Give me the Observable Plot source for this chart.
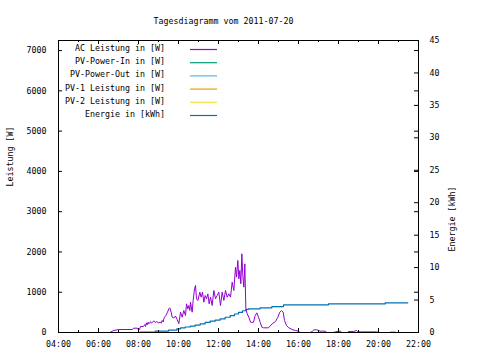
<!DOCTYPE html>
<html>
<head>
<meta charset="utf-8">
<script src="https://cdn.jsdelivr.net/npm/d3@7"></script>
<script src="https://cdn.jsdelivr.net/npm/@observablehq/plot@0.6"></script>
<style>
  html, body { margin: 0; padding: 0; background: #fff; }
</style>
</head>
<body>
<div id="chart"></div>
<script>
const titleText = "Tagesdiagramm vom 2011-07-20";
const yLabel = "Leistung [W]";
const y2Label = "Energie [kWh]";

const acTime = ["06:30","06:34","06:46","07:00","07:42","07:45","07:57","07:59","08:03","08:06","08:15","08:17","08:19","08:21","08:24","08:26","08:29","08:31","08:34","08:36","08:39","08:42","08:46","08:50","08:55","09:00","09:05","09:08","09:11","09:14","09:16","09:18","09:22","09:27","09:31","09:34","09:38","09:41","09:46","09:51","09:56","10:01","10:06","10:11","10:16","10:21","10:24","10:28","10:31","10:34","10:36","10:41","10:44","10:48","10:51","10:54","10:58","11:04","11:08","11:12","11:16","11:20","11:24","11:28","11:32","11:36","11:41","11:46","11:51","11:56","12:01","12:06","12:11","12:16","12:21","12:26","12:31","12:36","12:41","12:46","12:51","12:54","12:58","13:01","13:04","13:07","13:10","13:13","13:16","13:19","13:22","13:26","13:31","13:36","13:40","13:45","13:50","13:55","14:00","14:05","14:10","14:15","14:30","14:41","14:51","14:58","15:04","15:09","15:14","15:18","15:24","15:31","15:41","15:51","16:01","16:03","16:35","16:41","16:46","16:55","17:00","17:05","17:20","17:25","17:45","17:51","18:01","18:06","18:10","18:28","18:30","18:45","18:54","18:58","19:06","19:56","20:00","20:34","20:36","20:51","20:53"];
const acWatt = [0,0,50,74,74,107,107,74,74,150,150,174,199,149,240,190,256,215,240,270,230,256,290,250,270,240,256,230,298,260,340,380,420,505,587,612,505,380,360,410,320,220,505,380,546,422,712,587,670,546,753,505,795,1085,1167,836,795,1002,877,1002,753,918,836,960,712,877,670,1043,836,918,1002,670,1002,795,1043,877,960,877,1250,1043,1622,1374,1788,1333,1540,1209,1953,1415,1126,1705,587,463,380,256,250,256,422,488,380,256,132,116,116,215,273,380,505,546,505,298,174,116,74,50,33,0,0,25,66,66,50,33,33,0,0,17,33,33,0,0,25,25,50,17,15,15,0,0,8,8,0];

const energyTime = ["07:34","08:05","08:50","09:30","09:55","10:06","10:20","10:35","10:50","11:05","11:20","11:35","11:50","12:05","12:20","12:35","12:48","13:00","13:12","13:22","13:30","14:05","14:40","15:15","17:30","20:20","21:28"];
const energyKwh = [0,0.05,0.2,0.36,0.57,0.72,0.85,0.98,1.15,1.34,1.55,1.75,1.92,2.1,2.35,2.6,2.85,3.1,3.35,3.55,3.65,3.8,4.0,4.26,4.41,4.57,4.57];

const xMajorHours = [4,6,8,10,12,14,16,18,20,22];
const xMinorHours = [5,7,9,11,13,15,17,19,21];
const yTicksW = [0,1000,2000,3000,4000,5000,6000,7000];
const y2TicksKwh = [0,5,10,15,20,25,30,35,40,45];

const legendLabels = ["AC Leistung in [W]","PV-Power-In in [W]","PV-Power-Out in [W]","PV-1 Leistung in [W]","PV-2 Leistung in [W]","Energie in [kWh]"];
const legendColors = ["#9400d3","#009e73","#56b4e9","#e69f00","#f0e442","#0072b2"];

const Y_MAX = 7250, Y2_MAX = 45;
const toHours = s => { const [h, m] = s.split(":").map(Number); return h + m / 60; };
const fmtHour = h => String(h).padStart(2, "0") + ":00";

const ac = acTime.map((t, i) => ({h: toHours(t), w: acWatt[i]}));
const energy = energyTime.map((t, i) => ({h: toHours(t), w: energyKwh[i] * Y_MAX / Y2_MAX}));
const y2TicksW = y2TicksKwh.map(v => v * Y_MAX / Y2_MAX);

const W = 480, H = 360, mL = 58, mR = 62, mT = 40, mB = 28;
const plotH = H - mT - mB, plotW = W - mL - mR;
const FONT = "'DejaVu Sans Mono', monospace";

const chart = Plot.plot({
  width: W, height: H,
  marginLeft: mL, marginRight: mR, marginTop: mT, marginBottom: mB,
  style: {fontFamily: FONT, fontSize: "8.3px", background: "#fff", color: "#000"},
  x: {domain: [4, 22]},
  y: {domain: [0, Y_MAX]},
  marks: [
    Plot.line(energy, {x: "h", y: "w", stroke: "#0072b2", strokeWidth: 1.2, curve: "step-after"}),
    Plot.line(ac, {x: "h", y: "w", stroke: "#9400d3", strokeWidth: 1}),
    Plot.frame({stroke: "#000"}),
    // x ticks (bottom and mirrored top), inward
    Plot.tickX(xMajorHours, {x: d => d, insetTop: plotH - 4, stroke: "#000"}),
    Plot.tickX(xMinorHours, {x: d => d, insetTop: plotH - 2, stroke: "#000"}),
    Plot.tickX(xMajorHours, {x: d => d, insetBottom: plotH - 4, stroke: "#000"}),
    Plot.tickX(xMinorHours, {x: d => d, insetBottom: plotH - 2, stroke: "#000"}),
    // left y ticks, mirrored on right
    Plot.tickY(yTicksW, {y: d => d, insetRight: plotW - 4, stroke: "#000"}),
    Plot.tickY(yTicksW, {y: d => d, insetLeft: plotW - 4, stroke: "#000"}),
    // right y2 ticks
    Plot.tickY(y2TicksW, {y: d => d, insetLeft: plotW - 4, stroke: "#000"}),
    Plot.axisX(xMajorHours, {tickSize: 0, tickPadding: 9, tickFormat: fmtHour, label: null}),
    Plot.axisY(yTicksW, {anchor: "left", tickSize: 0, tickPadding: 12, tickFormat: d => String(d), label: null}),
    Plot.axisY(y2TicksW, {anchor: "right", tickSize: 0, tickPadding: 11, tickFormat: d => String(Math.round(d * Y2_MAX / Y_MAX)), label: null}),
    Plot.text([yLabel], {frameAnchor: "left", rotate: -90, dx: -48, text: d => d}),
    Plot.text([y2Label], {frameAnchor: "right", rotate: -90, dx: 34, text: d => d}),
    Plot.text([titleText], {frameAnchor: "top", dx: -15, dy: -22, text: d => d})
  ]
});

// legend inside the plot, top-left (gnuplot style)
const svg = d3.select(chart);
const lg = svg.append("g").attr("font-family", FONT).attr("font-size", "8.3px");
legendLabels.forEach((label, i) => {
  const y = 48.5 + 13.2 * i;
  lg.append("text").attr("x", 165).attr("y", y).attr("text-anchor", "end")
    .attr("dominant-baseline", "middle").attr("fill", "#000").text(label);
  lg.append("line").attr("x1", 190).attr("x2", 217).attr("y1", y + 1).attr("y2", y + 1)
    .attr("stroke", legendColors[i]).attr("stroke-width", 1.2);
});

document.getElementById("chart").appendChild(chart);
</script>
</body>
</html>
